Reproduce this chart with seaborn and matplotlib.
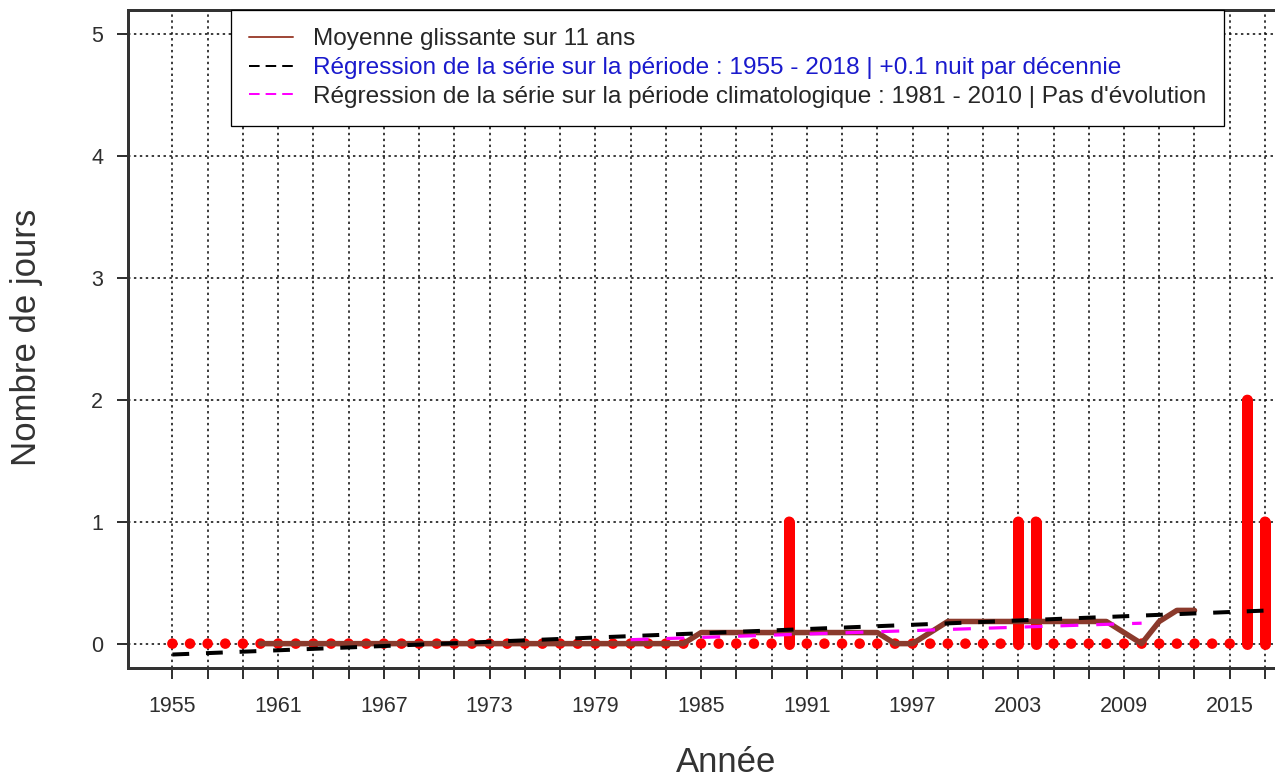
import numpy as np
import pandas as pd
import matplotlib
matplotlib.use("Agg")
import matplotlib.pyplot as plt
from matplotlib.lines import Line2D
import seaborn as sns

# ---- data ----
years = list(range(1955, 2019))
event_years = [1990, 2003, 2004, 2016, 2017]
event_counts = [1, 1, 1, 2, 1]
counts = [event_counts[event_years.index(y)] if y in event_years else 0 for y in years]

clim_start, clim_end = 1981, 2010
x_tick_years = list(range(1955, 2018, 2))
x_label_years = list(range(1955, 2018, 6))
y_ticks = [0, 1, 2, 3, 4, 5]

legend_labels = [
    "Moyenne glissante sur 11 ans",
    "Régression de la série sur la période : 1955 - 2018 | +0.1 nuit par décennie",
    "Régression de la série sur la période climatologique : 1981 - 2010 | Pas d'évolution",
]

df = pd.DataFrame({"annee": years, "n": counts})
df["ma"] = df["n"].rolling(11, center=True).mean()

# regressions
p_all = np.polyfit(df["annee"], df["n"], 1)
df["reg_all"] = np.polyval(p_all, df["annee"])
clim = df[(df["annee"] >= clim_start) & (df["annee"] <= clim_end)].copy()
p_clim = np.polyfit(clim["annee"], clim["n"], 1)
clim["reg_clim"] = np.polyval(p_clim, clim["annee"])

# ---- style ----
sns.set_style("white")
plt.rcParams["font.family"] = ["Liberation Sans", "DejaVu Sans"]

W, H = 1275, 780
fig = plt.figure(figsize=(W / 100, H / 100), dpi=100)
ax = fig.add_axes([128 / W, 112 / H, (1327 - 128) / W, 658 / H])

PX = 72 / 100  # points per pixel

ax.set_xlim(1955 - 0.04 * 63, 2018 + 0.04 * 63)
ax.set_ylim(-0.2, 5.2)

ax.set_xticks(x_tick_years)
ax.set_xticklabels([str(y) if y in x_label_years else "" for y in x_tick_years])
ax.set_yticks(y_ticks)
ax.set_yticklabels([str(v) for v in y_ticks])

ax.grid(True, color="#111111", linewidth=1.6 * PX, linestyle=(0, (1.5, 2.2)))
ax.set_axisbelow(True)

# red vertical bars
ev = df[df["n"] > 0]
vl = ax.vlines(ev["annee"], 0, ev["n"], colors="#ff0000", linewidth=11 * PX, zorder=3)
vl.set_capstyle("round")

# red points
sns.scatterplot(data=df, x="annee", y="n", color="#ff0000", s=(10.5 * PX) ** 2,
                edgecolor="none", ax=ax, zorder=3, legend=False)

# moving average
sns.lineplot(data=df.dropna(subset=["ma"]), x="annee", y="ma", color="#8B3A2C",
             linewidth=5.5 * PX, ax=ax, zorder=4, legend=False,
             solid_joinstyle="round", solid_capstyle="round")

# regression lines
sns.lineplot(data=df, x="annee", y="reg_all", color="black", linewidth=4 * PX,
             linestyle=(0, (4.2, 4.2)), ax=ax, zorder=5, legend=False)
sns.lineplot(data=clim, x="annee", y="reg_clim", color="#ff00ff", linewidth=3.2 * PX,
             linestyle=(0, (5.6, 5.6)), ax=ax, zorder=5, legend=False)

# spines
for side in ["left", "bottom", "top"]:
    ax.spines[side].set_visible(True)
    ax.spines[side].set_color("#333333")
    ax.spines[side].set_linewidth(3 * PX)
ax.spines["right"].set_visible(False)

ax.tick_params(axis="both", direction="out", length=11 * PX, width=2 * PX,
               color="#333333", labelcolor="#2e2e2e", labelsize=15.5)
ax.tick_params(axis="x", pad=12, bottom=True)
ax.tick_params(axis="y", pad=10, left=True)

ax.set_xlabel("Année", fontsize=25, color="#333333")
ax.set_ylabel("Nombre de jours", fontsize=25, color="#333333")
ax.xaxis.label.set_va("center")
ax.yaxis.label.set_va("center")
ax.xaxis.set_label_coords(0.4987, (668 - 763) / 658)
ax.yaxis.set_label_coords((27 - 128) / 1199, (668 - 337) / 658)

handles = [
    Line2D([], [], color="#A04A3A", linewidth=2 * PX),
    Line2D([], [], color="black", linewidth=2 * PX, linestyle=(0, (5.3, 3.0))),
    Line2D([], [], color="#ff00ff", linewidth=2 * PX, linestyle=(0, (5.3, 3.0))),
]
leg = ax.legend(handles, legend_labels, loc="upper center", bbox_to_anchor=(0.5, 1.0),
                borderaxespad=0, frameon=True, fancybox=False, edgecolor="black",
                framealpha=1, facecolor="white", fontsize=17.6, handlelength=1.8,
                handletextpad=0.8, labelspacing=0.27, borderpad=0.75)
leg.get_frame().set_linewidth(1.3 * PX)
leg.get_texts()[1].set_color("#1a1acd")
leg.set_zorder(10)

fig.savefig("out.png", dpi=100)
